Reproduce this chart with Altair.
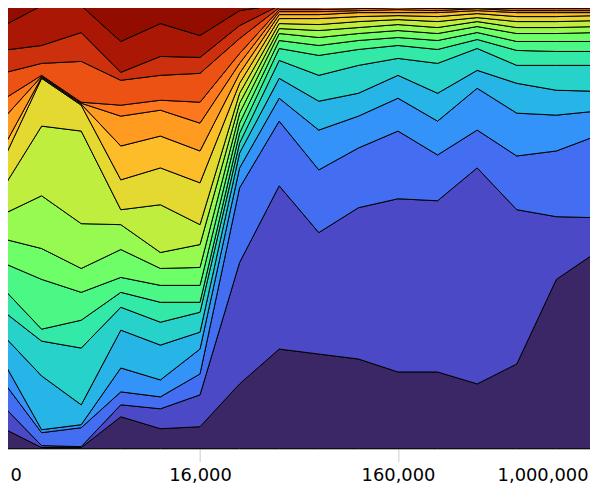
import altair as alt
import pandas as pd

# x positions (index) and tick labels
x_index = list(range(16))
tick_values = [0, 5, 10, 15]
tick_text = ["0", "16,000", "160,000", "1,000,000"]

# layer values per x position, bottom layer first (19 layers, relative shares)
col00 = [21, 23, 25, 21, 25, 24, 23, 25, 24, 24, 25, 27, 13, 30, 20, 27, 23, 24, 23]
col01 = [1, 2, 13, 3, 54, 35, 12, 50, 31, 53, 70, 48, 1, 1, 1, 12, 18, 40, 2]
col02 = [1, 1, 19, 3, 20, 57, 28, 28, 24, 45, 93, 26, 1, 1, 1, 41, 29, 27, 2]
col03 = [32, 12, 13, 24, 38, 23, 15, 15, 28, 25, 15, 30, 34, 30, 11, 25, 8, 31, 38]
col04 = [20, 20, 12, 17, 35, 23, 20, 17, 17, 16, 48, 37, 32, 26, 10, 25, 19, 33, 20]
col05 = [22, 32, 21, 25, 17, 20, 10, 17, 18, 23, 20, 42, 32, 28, 21, 29, 16, 22, 32]
col06 = [65, 122, 75, 20, 15, 10, 10, 10, 10, 10, 10, 10, 10, 10, 10, 15, 13, 15, 7]
col07 = [100, 164, 65, 23, 20, 18, 12, 8, 7, 5, 5, 5, 4, 3, 2, 2, 2, 1, 1]
col08 = [95, 122, 63, 40, 29, 26, 20, 10, 8, 7, 6, 6, 4, 3, 2, 2, 2, 1, 1]
col09 = [90, 152, 60, 32, 23, 28, 16, 9, 7, 6, 6, 5, 4, 2, 2, 2, 1, 1, 1]
col10 = [77, 174, 68, 33, 23, 17, 13, 8, 7, 6, 5, 4, 3, 3, 2, 1, 1, 1, 1]
col11 = [77, 172, 46, 34, 28, 30, 14, 9, 7, 6, 6, 5, 4, 2, 2, 2, 1, 1, 1]
col12 = [65, 217, 38, 42, 18, 22, 9, 7, 6, 5, 4, 4, 3, 2, 1, 1, 1, 1, 1]
col13 = [85, 155, 54, 43, 30, 18, 15, 9, 8, 6, 6, 5, 4, 2, 2, 2, 1, 1, 1]
col14 = [170, 63, 66, 36, 25, 25, 14, 10, 8, 6, 6, 5, 4, 2, 2, 2, 1, 1, 1]
col15 = [197, 35, 82, 25, 20, 26, 14, 10, 9, 6, 6, 5, 3, 2, 2, 1, 1, 1, 2]

columns = [col00, col01, col02, col03, col04, col05, col06, col07, col08,
           col09, col10, col11, col12, col13, col14, col15]
n_layers = 19


def turbo(t):
    r = 0.13572138 + t * (4.61539260 + t * (-42.66032258 + t * (132.13108234 + t * (-152.94239396 + t * 59.28637943))))
    g = 0.09140261 + t * (2.19418839 + t * (4.84296658 + t * (-14.18503333 + t * (4.27729857 + t * 2.82956604))))
    b = 0.10667330 + t * (12.64194608 + t * (-60.58204836 + t * (110.36276771 + t * (-89.90310912 + t * 27.34824973))))
    c = [max(0, min(255, round(v * 255))) for v in (r, g, b)]
    return "#%02x%02x%02x" % tuple(c)


colors = [turbo((i + 0.5) / n_layers) for i in range(n_layers)]
layer_names = ["L%02d" % (i + 1) for i in range(n_layers)]

rows = []
for xi, col in zip(x_index, columns):
    for li, v in enumerate(col):
        rows.append({"x": xi, "layer": layer_names[li], "order": li, "value": v})
df = pd.DataFrame(rows)

label_expr = " : ".join(
    "datum.value == %d ? '%s'" % (v, t) for v, t in zip(tick_values, tick_text)
) + " : ''"

chart = alt.Chart(df).mark_area(
    stroke="black", strokeWidth=1, interpolate="linear"
).encode(
    x=alt.X("x:Q",
            scale=alt.Scale(domain=[0, 15], nice=False, zero=False),
            axis=alt.Axis(values=tick_values, labelExpr=label_expr, title=None,
                          grid=False, labelFlush=True, labelFlushOffset=-8,
                          domainColor="#999999", tickColor="#cccccc",
                          tickSize=13, labelFontSize=18,
                          labelFont="DejaVu Sans", labelColor="black",
                          labelPadding=5)),
    y=alt.Y("value:Q", stack="normalize", axis=None,
            scale=alt.Scale(nice=False)),
    color=alt.Color("layer:N", scale=alt.Scale(domain=layer_names, range=colors),
                    legend=None),
    order=alt.Order("order:Q", sort="ascending"),
).properties(
    width=598, height=448,
    padding={"left": -8, "top": -8, "right": -8, "bottom": -2},
).configure_view(stroke=None)

chart.save("out.html", embed_options={"renderer": "svg", "actions": False})
